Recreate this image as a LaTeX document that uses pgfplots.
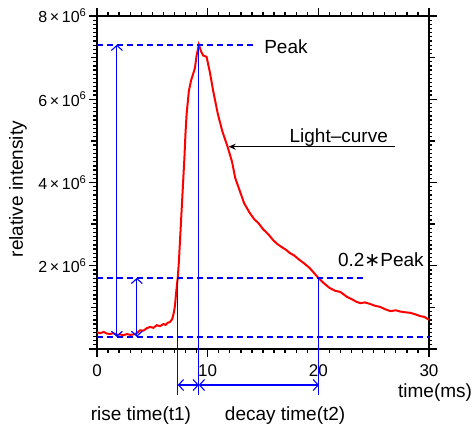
\documentclass[border=0pt]{standalone}
\usepackage{fontspec}
\setmainfont{Liberation Sans}
\newfontfamily\dejavu{DejaVu Sans}
\usepackage{pgfplots}
\pgfplotsset{compat=1.18}
\usetikzlibrary{arrows.meta}

\tikzset{
  dashed line/.style={blue, line width=2.2pt, dash pattern=on 6pt off 4pt},
  arr/.style={blue, line width=1.1pt, {Straight Barb[length=5pt,width=11pt]}-{Straight Barb[length=5pt,width=11pt]}},
  ann/.style={font=\fontsize{19}{19}\selectfont},
  tk/.style={black, line width=1.3pt}
}

\pgfplotstableread{
t y
0.0 0.40
0.3 0.38
0.6 0.41
0.9 0.37
1.2 0.36
1.5 0.38
1.8 0.34
2.1 0.35
2.4 0.33
2.7 0.36
3.0 0.34
3.3 0.35
3.6 0.38
3.9 0.45
4.2 0.44
4.5 0.50
4.8 0.53
5.1 0.51
5.4 0.57
5.7 0.55
6.0 0.60
6.2 0.58
6.4 0.63
6.6 0.65
6.8 0.72
6.95 0.88
7.05 1.05
7.15 1.35
7.25 1.60
7.3 1.72
7.4 2.10
7.5 2.60
7.6 3.10
7.7 3.60
7.8 4.10
7.9 4.60
8.0 5.20
8.1 5.65
8.3 6.20
8.5 6.45
8.7 6.62
8.85 6.75
9.0 7.05
9.2 7.31
9.4 7.15
9.6 7.05
9.9 7.02
10.2 6.65
10.5 6.20
10.9 5.67
11.3 5.25
11.8 4.86
12.2 4.50
12.5 4.10
12.9 3.80
13.3 3.50
13.8 3.27
14.2 3.12
14.6 3.02
15.0 2.88
15.5 2.75
15.9 2.62
16.3 2.52
16.8 2.43
17.1 2.38
17.4 2.31
17.8 2.25
18.3 2.14
18.7 2.06
19.2 1.95
19.6 1.83
20.0 1.71
20.5 1.58
21.0 1.47
21.5 1.40
22.0 1.37
22.6 1.25
23.0 1.20
23.4 1.14
23.8 1.10
24.2 1.12
24.7 1.08
25.1 1.04
25.6 1.01
26.0 0.96
26.5 0.91
27.0 0.93
27.4 0.90
27.9 0.88
28.3 0.87
28.8 0.83
29.2 0.79
29.6 0.77
30.0 0.70
}\lightcurve

\begin{document}
\begin{tikzpicture}
  \begin{axis}[scale only axis, width=332pt, height=333pt,
    xmin=0, xmax=30, ymin=0, ymax=8, clip=false,
    axis line style={line width=1.6pt},
    xtick={0,10,20,30}, ytick={2,4,6,8},
    major tick length=0pt, minor tick num=0,
    yticklabels={{2\,×\,10\textsuperscript{6}},{4\,×\,10\textsuperscript{6}},{6\,×\,10\textsuperscript{6}},{8\,×\,10\textsuperscript{6}}},
    scaled y ticks=false,
    /pgf/number format/assume math mode=true,
    xticklabel style={font=\fontsize{17}{17}\selectfont, yshift=-12pt},
    yticklabel style={font=\fontsize{16}{16}\selectfont, xshift=-7pt}]

    \addplot[red, line width=2pt] table[x=t, y=y] {\lightcurve};

    \addplot[dashed line] coordinates {(0,0.29) (30,0.29)};
    \addplot[dashed line] coordinates {(0,1.71) (24.2,1.71)};
    \addplot[dashed line] coordinates {(0,7.31) (14.4,7.31)};

    % frame ticks, outside on all four sides
    \pgfplotsinvokeforeach{1,...,29}{
      \draw[tk] (axis cs:#1,0) -- ++(0pt,-4pt);
      \draw[tk] (axis cs:#1,8) -- ++(0pt,4pt);}
    \pgfplotsinvokeforeach{0,10,20,30}{
      \draw[tk] (axis cs:#1,0) -- ++(0pt,-8pt);
      \draw[tk] (axis cs:#1,8) -- ++(0pt,8pt);}
    \pgfplotsinvokeforeach{0.1,0.2,...,7.95}{
      \draw[tk] (axis cs:0,#1) -- ++(-3.5pt,0pt);
      \draw[tk] (axis cs:30,#1) -- ++(3.5pt,0pt);}
    \pgfplotsinvokeforeach{1,3,5,7}{
      \draw[tk] (axis cs:0,#1) -- ++(-6pt,0pt);
      \draw[tk] (axis cs:30,#1) -- ++(6pt,0pt);}
    \pgfplotsinvokeforeach{0,2,4,6,8}{
      \draw[tk] (axis cs:0,#1) -- ++(-8pt,0pt);
      \draw[tk] (axis cs:30,#1) -- ++(8pt,0pt);}

    \draw[arr] (axis cs:1.8,0.29) -- (axis cs:1.8,7.31);
    \draw[arr] (axis cs:3.6,0.29) -- (axis cs:3.6,1.71);
    \draw[blue, line width=1.1pt] (axis cs:7.3,1.71) -- (axis cs:7.3,-1.1);
    \draw[blue, line width=1.1pt] (axis cs:9.2,7.31) -- (axis cs:9.2,-1.1);
    \draw[blue, line width=1.1pt] (axis cs:20.05,1.71) -- (axis cs:20.05,-1.1);
    \draw[arr] (axis cs:7.3,-0.865) -- (axis cs:9.2,-0.865);
    \draw[arr] (axis cs:9.2,-0.865) -- (axis cs:20.05,-0.865);

    \draw[black, line width=1pt, -{Stealth[length=7pt,width=6pt]}] (axis cs:26.9,4.86) -- (axis cs:11.9,4.86);

    \node[ann, rotate=90] at (axis cs:-7.14,3.84) {relative intensity};
    \node[ann, anchor=base west] at (axis cs:14.8,7.10) {Peak};
    \node[ann, anchor=base east] at (axis cs:26.6,4.95) {Light–curve};
    \node[ann, anchor=base] at (axis cs:25.65,1.98) {0.2{\dejavu ∗}Peak};
    \node[ann, anchor=base] at (axis cs:30.55,-1.17) {time(ms)};
    \node[ann, anchor=base] at (axis cs:3.97,-1.71) {rise time(t1)};
    \node[ann, anchor=base] at (axis cs:17.0,-1.71) {decay time(t2)};
  \end{axis}
  \pgfresetboundingbox
  \path (current axis.south west) ++(-97pt,-77pt) rectangle ++(475pt,426pt);
\end{tikzpicture}
\end{document}
